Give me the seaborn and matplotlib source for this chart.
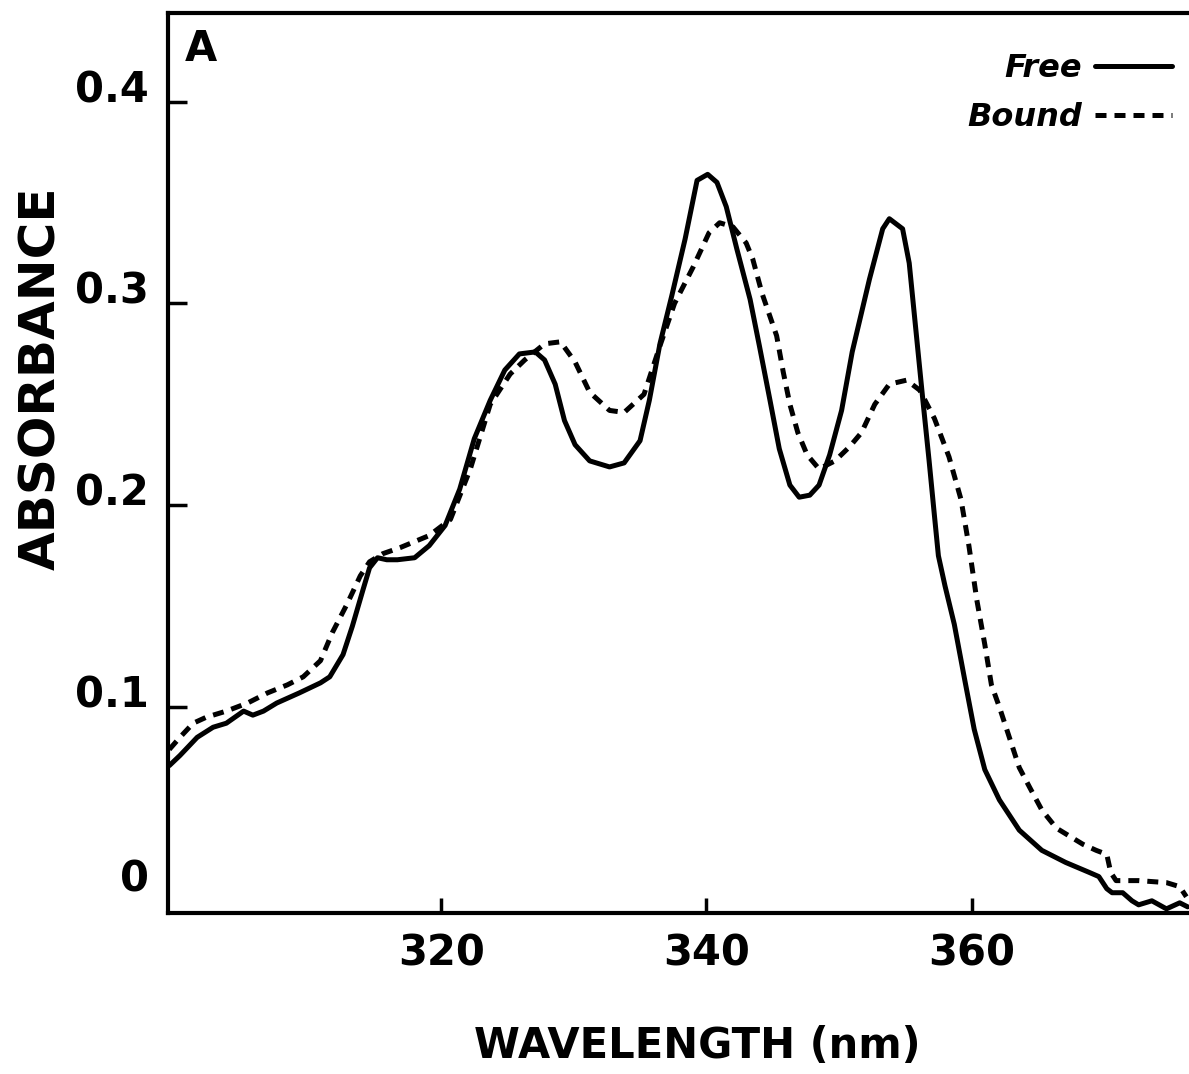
import numpy as np
import pandas as pd
import matplotlib
matplotlib.use("Agg")
import matplotlib.pyplot as plt
import matplotlib.transforms as mtransforms
import seaborn as sns

# Free spectrum
free_nm = [299.5, 300.3, 301.6, 302.8, 303.8, 305.1, 305.8, 306.6, 307.6, 309.3,
           310.9, 311.6, 312.6, 313.3, 314.1, 314.6, 315.2, 315.9, 316.7, 318.0,
           319.1, 320.3, 321.4, 322.5, 323.7, 324.8, 325.9, 327.1, 327.8, 328.6,
           329.3, 330.1, 331.2, 332.7, 333.8, 335.0, 335.7, 336.5, 337.4, 338.4,
           339.3, 340.1, 340.8, 341.5, 342.3, 343.3, 344.0, 344.8, 345.5, 346.3,
           347.0, 347.8, 348.5, 349.3, 350.2, 351.0, 352.3, 353.3, 353.8, 354.8,
           355.3, 355.8, 356.3, 356.8, 357.2, 357.5, 358.0, 358.7, 359.5, 360.2,
           361.0, 362.1, 363.6, 365.3, 367.1, 368.9, 369.6, 370.2, 370.6, 371.4,
           372.1, 372.6, 373.6, 374.7, 375.7, 376.3]
free_abs = [0.071, 0.076, 0.085, 0.090, 0.092, 0.098, 0.096, 0.098, 0.102, 0.107,
            0.112, 0.115, 0.126, 0.140, 0.158, 0.169, 0.174, 0.173, 0.173, 0.174,
            0.180, 0.190, 0.208, 0.233, 0.252, 0.267, 0.275, 0.276, 0.272, 0.260,
            0.242, 0.230, 0.222, 0.219, 0.221, 0.232, 0.252, 0.280, 0.304, 0.332,
            0.361, 0.364, 0.360, 0.348, 0.327, 0.302, 0.279, 0.252, 0.228, 0.210,
            0.204, 0.205, 0.210, 0.225, 0.247, 0.276, 0.312, 0.337, 0.342, 0.337,
            0.320, 0.287, 0.254, 0.222, 0.195, 0.175, 0.160, 0.141, 0.113, 0.089,
            0.069, 0.054, 0.039, 0.029, 0.023, 0.018, 0.016, 0.010, 0.008, 0.008,
            0.004, 0.002, 0.004, 0.000, 0.003, 0.001]

# Bound spectrum
bound_nm = [299.5, 300.3, 301.3, 302.3, 303.8, 305.4, 306.9, 308.4, 309.6, 310.9,
            311.8, 312.9, 313.9, 314.6, 315.6, 316.9, 319.1, 320.7, 322.2, 323.7,
            325.2, 326.3, 327.8, 329.0, 330.1, 331.2, 332.7, 333.8, 335.3, 336.5,
            337.6, 339.0, 340.2, 341.0, 342.0, 343.0, 343.5, 344.2, 345.3, 345.8,
            346.3, 346.9, 347.6, 348.5, 349.7, 350.8, 351.7, 352.7, 353.8, 355.1,
            356.1, 357.2, 358.3, 359.2, 359.8, 360.4, 361.0, 361.5, 362.1, 362.9,
            363.6, 364.4, 365.3, 366.4, 367.4, 368.4, 369.4, 370.2, 370.5, 370.9,
            372.6, 374.7, 375.7, 376.2]
bound_abs = [0.079, 0.085, 0.092, 0.095, 0.098, 0.102, 0.107, 0.111, 0.115, 0.123,
             0.137, 0.151, 0.165, 0.172, 0.176, 0.179, 0.185, 0.193, 0.218, 0.250,
             0.265, 0.272, 0.280, 0.281, 0.271, 0.256, 0.247, 0.246, 0.255, 0.279,
             0.300, 0.318, 0.335, 0.340, 0.338, 0.330, 0.322, 0.305, 0.284, 0.266,
             0.250, 0.236, 0.225, 0.218, 0.222, 0.229, 0.236, 0.250, 0.260, 0.262,
             0.257, 0.243, 0.224, 0.203, 0.180, 0.153, 0.131, 0.111, 0.100, 0.084,
             0.070, 0.060, 0.049, 0.040, 0.036, 0.032, 0.029, 0.027, 0.018, 0.014,
             0.014, 0.013, 0.011, 0.006]

x_ticks = [320, 340, 360]
y_ticks = [0, 0.1, 0.2, 0.3, 0.4]
y_labels = ["0", "0.1", "0.2", "0.3", "0.4"]

df = pd.concat([
    pd.DataFrame({"wavelength": free_nm, "absorbance": free_abs, "form": "Free"}),
    pd.DataFrame({"wavelength": bound_nm, "absorbance": bound_abs, "form": "Bound"}),
])

sns.set_style("white")
plt.rcParams["font.family"] = ["DejaVu Sans"]
plt.rcParams["text.color"] = "black"
plt.rcParams["axes.labelcolor"] = "black"
plt.rcParams["xtick.color"] = "black"
plt.rcParams["ytick.color"] = "black"

fig = plt.figure(figsize=(11.89, 10.74), dpi=100)
ax = fig.add_axes([0.1413, 0.150, 0.8587, 0.838])

sns.lineplot(data=df, x="wavelength", y="absorbance", style="form",
             dashes={"Free": "", "Bound": (2.2, 1.6)}, color="black",
             linewidth=3.6, sort=False, estimator=None, ax=ax)

ax.set_xlim(299.4, 376.4)
ax.set_ylim(-0.002, 0.444)
ax.set_xticks(x_ticks)
ax.set_xticklabels([str(t) for t in x_ticks])
ax.set_yticks(y_ticks)
ax.set_yticklabels(y_labels)
ax.tick_params(left=True, bottom=True, direction="in", length=11, width=2.5,
               labelsize=30, pad=14)
ax.tick_params(axis="y", length=14)
for lab in ax.get_xticklabels() + ax.get_yticklabels():
    lab.set_fontweight("bold")

# no tick mark drawn at 0 on the y axis, only the label
ax.yaxis.get_major_ticks()[0].tick1line.set_visible(False)

# the hand-lettered y labels sit a bit above their ticks
for lab, v in zip(ax.get_yticklabels(), y_ticks):
    dy = 34 if v == 0 else 16
    lab.set_transform(lab.get_transform() +
                      mtransforms.ScaledTranslation(0, dy / 100, fig.dpi_scale_trans))

for side in ["left", "bottom", "top"]:
    ax.spines[side].set_linewidth(3)
    ax.spines[side].set_color("black")
ax.spines["right"].set_visible(False)

ax.set_xlabel("WAVELENGTH (nm)", fontsize=30, fontweight="bold")
ax.xaxis.set_label_coords(0.518, -0.124)
ax.set_ylabel("ABSORBANCE", fontsize=36, fontweight="bold")
ax.yaxis.set_label_coords(-0.101, 0.594)

ax.text(0.016, 0.983, "A", transform=ax.transAxes, fontsize=30,
        fontweight="bold", va="top", ha="left")

handles, labels = ax.get_legend_handles_labels()
leg = ax.legend(handles, labels, loc="upper right", bbox_to_anchor=(0.983, 0.955),
                frameon=False, markerfirst=False, handlelength=2.4,
                handletextpad=0.4, labelspacing=0.55, borderaxespad=0,
                borderpad=0, prop={"size": 23, "weight": "bold", "style": "italic"})

fig.savefig("out.png", dpi=100)
